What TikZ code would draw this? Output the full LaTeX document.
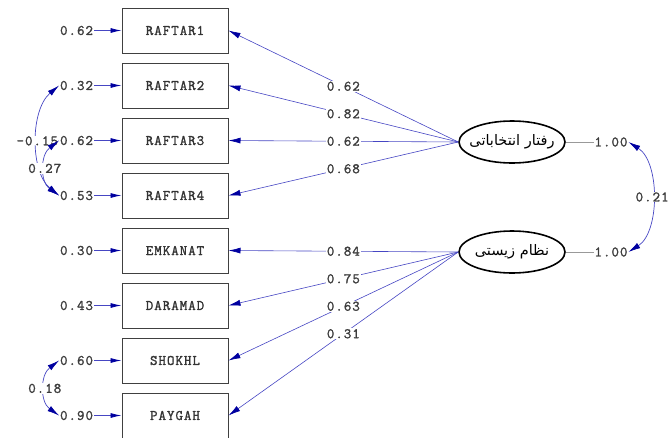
\documentclass[tikz,border=0pt]{standalone}
\usepackage{fontspec}
\newfontfamily\lab[LetterSpace=7,FakeBold=1.5]{Latin Modern Mono}
\newfontfamily\arabicfont[Script=Arabic]{DejaVu Sans}
\TeXXeTstate=1
\usetikzlibrary{arrows.meta,shapes.geometric}
\definecolor{pblue}{RGB}{70,70,195}
\definecolor{navy}{RGB}{0,0,160}
\definecolor{txt}{RGB}{60,60,60}
\begin{document}
\begin{tikzpicture}[x=1pt,y=-1pt,
  obs/.style={draw=black!75, line width=1pt, minimum width=106pt, minimum height=45pt, inner sep=0pt, text=black!80, font=\lab\fontsize{14.5}{14.5}\selectfont},
  lat/.style={ellipse, draw=black, line width=1.6pt, minimum width=106pt, minimum height=42pt, inner sep=0pt, font=\arabicfont\fontsize{14.5}{14.5}\selectfont},
  lbl/.style={fill=white, inner sep=0.8pt, text=txt, font=\lab\fontsize{14.5}{14.5}\selectfont},
  pth/.style={draw=pblue, line width=0.6pt, -{Latex[length=12pt,width=6pt,color=navy]}},
  err/.style={draw=pblue, line width=0.8pt, -{Latex[length=11pt,width=5pt,color=navy]}},
  cov/.style={draw=pblue, line width=0.7pt, {Latex[length=12pt,width=6pt,color=navy]}-{Latex[length=12pt,width=6pt,color=navy]}},
  var/.style={draw=black!40, line width=0.6pt}]
\useasboundingbox (0,0) rectangle (671,437);
% observed
\node[obs] (r1) at (175,30.5) {RAFTAR1};
\node[obs] (r2) at (175,85.5) {RAFTAR2};
\node[obs] (r3) at (175,140.5) {RAFTAR3};
\node[obs] (r4) at (175,195.5) {RAFTAR4};
\node[obs] (r5) at (175,250.5) {EMKANAT};
\node[obs] (r6) at (175,305.5) {DARAMAD};
\node[obs] (r7) at (175,360.5) {SHOKHL};
\node[obs] (r8) at (175,415.5) {PAYGAH};
% errors
\node[lbl,anchor=east] (e1) at (94,30.5) {0.62};
\node[lbl,anchor=east] (e2) at (94,85.5) {0.32};
\node[lbl,anchor=east] (e3) at (94,140.5) {0.62};
\node[lbl,anchor=east] (e4) at (94,195.5) {0.53};
\node[lbl,anchor=east] (e5) at (94,250.5) {0.30};
\node[lbl,anchor=east] (e6) at (94,305.5) {0.43};
\node[lbl,anchor=east] (e7) at (94,360.5) {0.60};
\node[lbl,anchor=east] (e8) at (94,415.5) {0.90};
\foreach \i in {1,...,8} {\draw[err] (e\i.east) -- (r\i.west);}
% latents
\node[lat] (L1) at (512,142) {\makebox[0pt]{\beginR رفتار انتخاباتی\endR}};
\node[lat] (L2) at (512,252) {\makebox[0pt]{\beginR نظام زیستی\endR}};
\node[lbl] (v1) at (611,142) {1.00};
\node[lbl] (v2) at (611,252) {1.00};
\draw[var] (L1.east) -- (v1.west);
\draw[var] (L2.east) -- (v2.west);
\draw[cov] (v1.east) .. controls (660,162) and (660,232) .. node[lbl,pos=0.5] {0.21} (v2.east);
% paths
\draw[pth] (L1.west) -- node[lbl,pos=0.5] {0.62} (r1.east);
\draw[pth] (L1.west) -- node[lbl,pos=0.5] {0.82} (r2.east);
\draw[pth] (L1.west) -- node[lbl,pos=0.5] {0.62} (r3.east);
\draw[pth] (L1.west) -- node[lbl,pos=0.5] {0.68} (r4.east);
\draw[pth] (L2.west) -- node[lbl,pos=0.5] {0.84} (r5.east);
\draw[pth] (L2.west) -- node[lbl,pos=0.5] {0.75} (r6.east);
\draw[pth] (L2.west) -- node[lbl,pos=0.5] {0.63} (r7.east);
\draw[pth] (L2.west) -- node[lbl,pos=0.5] {0.31} (r8.east);
% error covariances
\draw[cov] (e2.west) .. controls (30,110) and (30,172) .. node[lbl,pos=0.5,inner sep=0pt] {-0.15} (e4.west);
\draw[cov] (e3.west) .. controls (40,155) and (40,182) .. node[lbl,pos=0.5] {0.27} (e4.west);
\draw[cov] (e7.west) .. controls (40,375) and (40,402) .. node[lbl,pos=0.5] {0.18} (e8.west);
\end{tikzpicture}
\end{document}
